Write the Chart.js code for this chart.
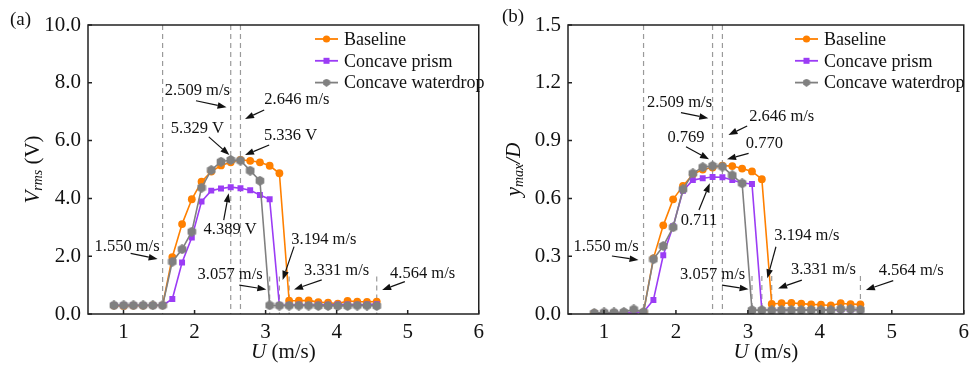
<!DOCTYPE html>
<html>
<head>
<meta charset="utf-8">
<script src="https://cdn.jsdelivr.net/npm/chart.js@4/dist/chart.umd.min.js"></script>
<style>
  html, body { margin: 0; padding: 0; background: #fff; }
  #wrap { position: relative; width: 975px; height: 365px; overflow: hidden; }
  #leftBox { position: absolute; left: 0; top: 0; width: 490px; height: 365px; }
  #rightBox { position: absolute; left: 488px; top: 0; width: 487px; height: 365px; }
</style>
</head>
<body>
<div id="wrap">
  <div id="leftBox"><canvas id="vrmsChart"></canvas></div>
  <div id="rightBox"><canvas id="ymaxChart"></canvas></div>
</div>
<script>
// wind speed points (m/s)
const speeds = [0.865, 1.002, 1.139, 1.276, 1.413, 1.550, 1.687, 1.824, 1.961, 2.098, 2.235, 2.372, 2.509, 2.646,
  2.783, 2.920, 3.057, 3.194, 3.331, 3.468, 3.605, 3.742, 3.879, 4.016, 4.153, 4.290, 4.427, 4.564];

// (a) Vrms (V)
const vrmsBaseline = [0.29, 0.28, 0.29, 0.29, 0.30, 0.30, 1.97, 3.11, 3.97, 4.58, 4.93, 5.14, 5.25, 5.336,
  5.30, 5.25, 5.13, 4.87, 0.46, 0.46, 0.47, 0.41, 0.39, 0.36, 0.45, 0.43, 0.42, 0.43];
const vrmsPrism = [0.30, 0.30, 0.30, 0.30, 0.30, 0.30, 0.52, 1.78, 2.65, 3.89, 4.27, 4.34, 4.389, 4.35,
  4.28, 4.12, 3.97, 0.30, 0.31, 0.32, 0.31, 0.32, 0.32, 0.33, 0.33, 0.32, 0.33, 0.34];
const vrmsWaterdrop = [0.30, 0.30, 0.30, 0.30, 0.30, 0.30, 1.81, 2.24, 2.85, 4.37, 4.98, 5.27, 5.329, 5.31,
  4.96, 4.61, 0.30, 0.29, 0.29, 0.29, 0.29, 0.28, 0.28, 0.28, 0.28, 0.29, 0.29, 0.28];

// (b) ymax/D
const ymaxBaseline = [0.005, 0.005, 0.006, 0.006, 0.008, 0.010, 0.289, 0.460, 0.595, 0.665, 0.725, 0.750, 0.760, 0.770,
  0.768, 0.755, 0.740, 0.700, 0.052, 0.056, 0.057, 0.054, 0.050, 0.048, 0.044, 0.056, 0.051, 0.050];
const ymaxPrism = [0.004, 0.006, 0.006, 0.007, 0.007, 0.010, 0.073, 0.305, 0.455, 0.640, 0.695, 0.705, 0.711, 0.710,
  0.695, 0.680, 0.675, 0.020, 0.020, 0.019, 0.020, 0.020, 0.021, 0.021, 0.020, 0.022, 0.022, 0.021];
const ymaxWaterdrop = [0.005, 0.008, 0.008, 0.010, 0.024, 0.010, 0.284, 0.353, 0.450, 0.647, 0.730, 0.762, 0.769, 0.765,
  0.720, 0.678, 0.020, 0.020, 0.019, 0.020, 0.020, 0.020, 0.021, 0.020, 0.020, 0.025, 0.025, 0.022];

const seriesNames = ["Baseline", "Concave prism", "Concave waterdrop"];
const xTicks = [1, 2, 3, 4, 5, 6];
const vrmsTicks = [0, 2, 4, 6, 8, 10];
const ymaxTicks = [0, 0.3, 0.6, 0.9, 1.2, 1.5];

// reference speeds: full-height dashed lines and short ones near the drop-offs
const fullMarks = [1.550, 2.509, 2.646];
const shortMarks = [3.057, 3.194, 3.331, 4.564];

// annotation text + arrows, in data units [U, value]
const vrmsNotes = [
  { text: "1.550 m/s", at: [1.05, 2.33], from: [1.10, 2.10], to: [1.48, 1.90] },
  { text: "4.389 V", at: [2.50, 2.91], from: [2.41, 3.25], to: [2.48, 4.18] },
  { text: "3.057 m/s", at: [2.50, 1.35], from: [2.63, 1.00], to: [3.01, 0.85] },
  { text: "3.194 m/s", at: [3.82, 2.58], from: [3.40, 2.33], to: [3.24, 1.18] },
  { text: "3.331 m/s", at: [4.00, 1.50], from: [3.79, 1.18], to: [3.40, 0.85] },
  { text: "4.564 m/s", at: [5.21, 1.38], from: [4.96, 1.12], to: [4.64, 0.83] },
  { text: "2.509 m/s", at: [2.04, 7.73], from: [2.02, 7.38], to: [2.45, 7.15] },
  { text: "2.646 m/s", at: [3.44, 7.43], from: [2.98, 7.06], to: [2.71, 6.75] },
  { text: "5.329 V", at: [2.04, 6.43], from: [2.20, 6.13], to: [2.49, 5.50] },
  { text: "5.336 V", at: [3.35, 6.16], from: [3.05, 5.85], to: [2.71, 5.50] }
];
const ymaxNotes = [
  { text: "2.509 m/s", at: [2.05, 1.097], from: [2.07, 1.045], to: [2.45, 1.016] },
  { text: "2.646 m/s", at: [3.47, 1.024], from: [2.99, 0.976], to: [2.73, 0.929] },
  { text: "0.769", at: [2.14, 0.915], from: [2.14, 0.868], to: [2.46, 0.803] },
  { text: "0.770", at: [3.23, 0.882], from: [3.01, 0.834], to: [2.71, 0.803] },
  { text: "0.711", at: [2.32, 0.484], from: [2.32, 0.540], to: [2.47, 0.678] },
  { text: "1.550 m/s", at: [1.03, 0.349], from: [1.11, 0.301], to: [1.48, 0.280] },
  { text: "3.057 m/s", at: [2.51, 0.202], from: [2.64, 0.150], to: [3.01, 0.128] },
  { text: "3.194 m/s", at: [3.82, 0.405], from: [3.39, 0.349], to: [3.27, 0.185] },
  { text: "3.331 m/s", at: [4.05, 0.228], from: [3.75, 0.176], to: [3.42, 0.133] },
  { text: "4.564 m/s", at: [5.27, 0.225], from: [5.02, 0.173], to: [4.64, 0.125] }
];

const FONT = '"Liberation Serif", "Times New Roman", serif';
const colors = ["#ff8000", "#9b3cf5", "#808080"];

// hexagon marker for the waterdrop series
function hexMarker(size, color) {
  const c = document.createElement("canvas");
  c.width = size; c.height = size;
  const g = c.getContext("2d");
  const r = size / 2;
  g.fillStyle = color;
  g.beginPath();
  for (let i = 0; i < 6; i++) {
    const a = Math.PI / 6 + i * Math.PI / 3;
    const px = r + r * Math.cos(a), py = r + r * Math.sin(a);
    i ? g.lineTo(px, py) : g.moveTo(px, py);
  }
  g.closePath();
  g.fill();
  return c;
}
const hexImg = hexMarker(10, colors[2]);

function arrow(ctx, x1, y1, x2, y2) {
  const ang = Math.atan2(y2 - y1, x2 - x1);
  const head = 9, half = 3.3;
  const bx = x2 - head * Math.cos(ang), by = y2 - head * Math.sin(ang);
  ctx.beginPath(); ctx.moveTo(x1, y1); ctx.lineTo(bx, by); ctx.stroke();
  ctx.beginPath();
  ctx.moveTo(x2, y2);
  ctx.lineTo(bx + half * Math.sin(ang), by - half * Math.cos(ang));
  ctx.lineTo(bx - half * Math.sin(ang), by + half * Math.cos(ang));
  ctx.closePath();
  ctx.fill();
}

// draw a run of [text, italic, size, dy] pieces centered at 0
function drawRuns(ctx, runs) {
  let total = 0;
  runs.forEach(r => { ctx.font = `${r[1] ? "italic " : ""}${r[2]}px ${FONT}`; total += ctx.measureText(r[0]).width; });
  let x = -total / 2;
  runs.forEach(r => {
    ctx.font = `${r[1] ? "italic " : ""}${r[2]}px ${FONT}`;
    ctx.fillText(r[0], x, r[3]);
    x += ctx.measureText(r[0]).width;
  });
}

function makePanel(canvasId, cfg) {
  const decor = {
    id: "decor",
    beforeDatasetsDraw(chart) {
      const { ctx, chartArea: a, scales: { x, y } } = chart;
      ctx.save();
      ctx.strokeStyle = "#9a9a9a";
      ctx.lineWidth = 1.2;
      ctx.setLineDash([5, 4]);
      fullMarks.forEach(u => {
        const px = x.getPixelForValue(u);
        ctx.beginPath(); ctx.moveTo(px, a.top); ctx.lineTo(px, a.bottom); ctx.stroke();
      });
      shortMarks.forEach(u => {
        const px = x.getPixelForValue(u);
        ctx.beginPath(); ctx.moveTo(px, y.getPixelForValue(cfg.shortTop)); ctx.lineTo(px, a.bottom); ctx.stroke();
      });
      ctx.restore();
    },
    afterDraw(chart) {
      const { ctx, chartArea: a, scales: { x, y } } = chart;
      ctx.save();
      // frame + inward ticks
      ctx.strokeStyle = "#222";
      ctx.lineWidth = 1.5;
      ctx.strokeRect(a.left, a.top, a.right - a.left, a.bottom - a.top);
      ctx.beginPath();
      xTicks.forEach(t => {
        const px = x.getPixelForValue(t);
        ctx.moveTo(px, a.bottom); ctx.lineTo(px, a.bottom - 4);
      });
      cfg.yTicks.forEach(t => {
        const py = y.getPixelForValue(t);
        ctx.moveTo(a.left, py); ctx.lineTo(a.left + 4, py);
      });
      ctx.stroke();

      // annotations
      ctx.fillStyle = "#111";
      ctx.strokeStyle = "#111";
      ctx.lineWidth = 1.2;
      ctx.font = `16.5px ${FONT}`;
      ctx.textAlign = "center";
      ctx.textBaseline = "middle";
      cfg.notes.forEach(n => {
        ctx.fillText(n.text, x.getPixelForValue(n.at[0]), y.getPixelForValue(n.at[1]));
        arrow(ctx, x.getPixelForValue(n.from[0]), y.getPixelForValue(n.from[1]),
          x.getPixelForValue(n.to[0]), y.getPixelForValue(n.to[1]));
      });

      // legend
      const lx = a.left + cfg.legendDx;
      ctx.textAlign = "left";
      ctx.font = `18px ${FONT}`;
      seriesNames.forEach((name, i) => {
        const ly = a.top + 14 + i * 21.8;
        ctx.strokeStyle = colors[i];
        ctx.lineWidth = 1.8;
        ctx.beginPath(); ctx.moveTo(lx, ly); ctx.lineTo(lx + 23, ly); ctx.stroke();
        ctx.fillStyle = colors[i];
        if (i === 0) { ctx.beginPath(); ctx.arc(lx + 11.5, ly, 3.6, 0, Math.PI * 2); ctx.fill(); }
        else if (i === 1) ctx.fillRect(lx + 8.5, ly - 3, 6, 6);
        else ctx.drawImage(hexImg, lx + 11.5 - 4, ly - 4, 8, 8);
        ctx.fillStyle = "#111";
        ctx.fillText(name, lx + 29, ly + 1);
      });

      // panel label
      ctx.font = `19px ${FONT}`;
      ctx.fillText(cfg.panel, cfg.panelPos[0], cfg.panelPos[1]);

      // x title
      ctx.save();
      ctx.translate((a.left + a.right) / 2, 352);
      ctx.textAlign = "left";
      drawRuns(ctx, [["U", true, 21, 0], [" (m/s)", false, 21, 0]]);
      ctx.restore();

      // y title
      ctx.save();
      ctx.translate(cfg.yTitleX, (a.top + a.bottom) / 2);
      ctx.rotate(-Math.PI / 2);
      ctx.textAlign = "left";
      drawRuns(ctx, cfg.yTitle);
      ctx.restore();

      ctx.restore();
    }
  };

  const sets = cfg.series.map((vals, i) => ({
    label: seriesNames[i],
    data: speeds.map((u, k) => ({ x: u, y: vals[k] })),
    borderColor: colors[i],
    backgroundColor: colors[i],
    borderWidth: 1.6,
    pointStyle: ["circle", "rect", hexImg][i],
    pointRadius: [3.9, 4.2, 5][i],
    pointBorderWidth: 0,
    tension: 0,
    order: 3 - i
  }));

  return new Chart(document.getElementById(canvasId), {
    type: "line",
    data: { datasets: sets },
    options: {
      responsive: true,
      maintainAspectRatio: false,
      animation: false,
      layout: { padding: { top: 25, right: cfg.padRight, left: 0, bottom: 0 } },
      plugins: { legend: { display: false }, tooltip: { enabled: false } },
      scales: {
        x: {
          type: "linear", min: 0.5, max: 6,
          grid: { display: false, drawTicks: false }, border: { display: false },
          afterBuildTicks: s => { s.ticks = xTicks.map(v => ({ value: v })); },
          afterFit: s => { s.height = 51; },
          ticks: { color: "#111", font: { family: FONT, size: 21 }, padding: 6, callback: v => String(v) }
        },
        y: {
          min: 0, max: cfg.yMax,
          grid: { display: false, drawTicks: false }, border: { display: false },
          afterBuildTicks: s => { s.ticks = cfg.yTicks.map(v => ({ value: v })); },
          afterFit: s => { s.width = cfg.yWidth; },
          ticks: { color: "#111", font: { family: FONT, size: 21 }, padding: 7, callback: v => v.toFixed(1) }
        }
      }
    },
    plugins: [decor]
  });
}

makePanel("vrmsChart", {
  series: [vrmsBaseline, vrmsPrism, vrmsWaterdrop],
  yMax: 10, yTicks: vrmsTicks, shortTop: 1.3, notes: vrmsNotes,
  yWidth: 88, padRight: 3, legendDx: 227, panel: "(a)", panelPos: [10, 20], yTitleX: 33,
  yTitle: [["V", true, 21, 0], ["rms", true, 14, 5], [" (V)", false, 21, 0]]
});

makePanel("ymaxChart", {
  series: [ymaxBaseline, ymaxPrism, ymaxWaterdrop],
  yMax: 1.5, yTicks: ymaxTicks, shortTop: 0.197, notes: ymaxNotes,
  yWidth: 80, padRight: 8, legendDx: 227, panel: "(b)", panelPos: [14, 17], yTitleX: 26,
  yTitle: [["y", true, 21, 0], ["max", true, 14, 5], ["/D", true, 21, 0]]
});
</script>
</body>
</html>
